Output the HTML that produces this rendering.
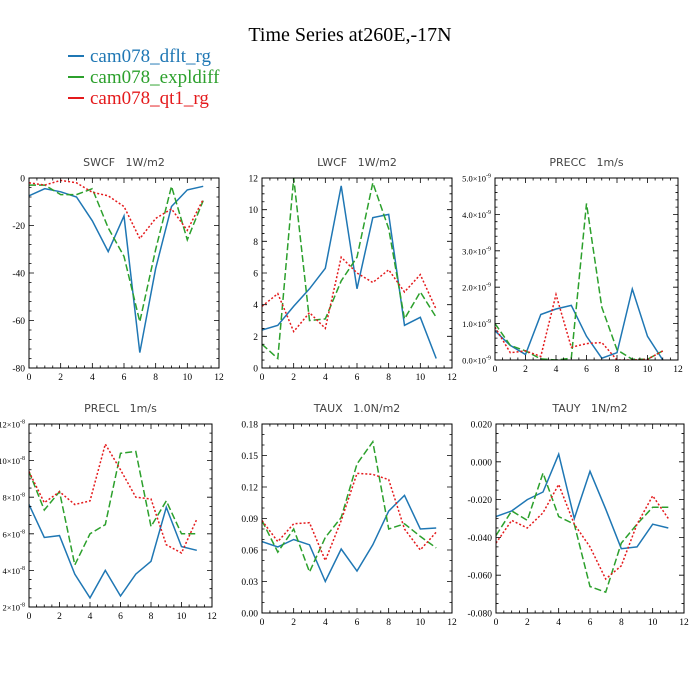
<!DOCTYPE html>
<html><head><meta charset="utf-8"><style>
html,body{margin:0;padding:0;background:#fff;width:700px;height:700px;overflow:hidden}
svg{display:block}
text{white-space:pre}
</style></head><body>
<svg id="c" width="700" height="700" xmlns="http://www.w3.org/2000/svg">
<text x="350" y="41" text-anchor="middle" font-family="Liberation Serif, serif" font-size="20">Time Series at260E,-17N</text>
<g>
<line x1="68" y1="56" x2="84" y2="56" stroke="#1f77b4" stroke-width="2"/>
<text x="90" y="62" font-family="Liberation Serif, serif" font-size="19" fill="#1f77b4">cam078_dflt_rg</text>
<line x1="68" y1="77" x2="84" y2="77" stroke="#2ca02c" stroke-width="2"/>
<text x="90" y="83" font-family="Liberation Serif, serif" font-size="19" fill="#2ca02c">cam078_expldiff</text>
<line x1="68" y1="98" x2="84" y2="98" stroke="#e41a1c" stroke-width="2"/>
<text x="90" y="104" font-family="Liberation Serif, serif" font-size="19" fill="#e41a1c">cam078_qt1_rg</text>
</g>
</svg>
<script>
const months=[0,1,2,3,4,5,6,7,8,9,10,11];
const xTicks=[0,2,4,6,8,10,12];
const swcfBlue=[-7.5,-4.5,-5.8,-8,-18,-31,-16,-73.5,-38,-12,-5,-3.5];
const swcfGreen=[-3,-3,-7,-7,-4.5,-21,-33,-60.5,-30,-3.5,-26,-9.5];
const swcfRed=[-2,-3,-1,-2,-6,-7.5,-12,-25.5,-17,-13,-22,-9];
const swcfTicks=[-80,-60,-40,-20,0];
const lwcfBlue=[2.4,2.7,3.9,5.0,6.3,11.5,5.0,9.5,9.7,2.7,3.2,0.6];
const lwcfGreen=[1.5,0.6,12,3.0,3.1,5.5,7.0,11.7,8.8,3.1,4.8,3.2];
const lwcfRed=[3.9,4.7,2.3,3.5,2.5,7.0,6.0,5.4,6.2,4.8,5.9,3.7];
const lwcfTicks=[0,2,4,6,8,10,12];
const preccBlue=[0.8,0.4,0.15,1.25,1.4,1.5,0.65,0.05,0.2,1.95,0.65,0];
const preccGreen=[1.0,0.4,0.25,0.03,0,0.05,4.3,1.45,0.28,0.02,0.02,0.25];
const preccRed=[0.9,0.2,0.25,0.1,1.8,0.35,0.45,0.48,0,0,0.02,0.25];
const preccTicks=[0,1,2,3,4,5];
const preclBlue=[7.6,5.8,5.9,3.8,2.5,4.0,2.6,3.8,4.5,7.45,5.3,5.1];
const preclGreen=[9.4,7.3,8.3,4.3,6.0,6.5,10.4,10.5,6.4,7.8,6.0,6.0];
const preclRed=[9.4,7.7,8.3,7.6,7.8,10.9,9.5,8.0,7.9,5.4,4.95,6.8];
const preclTicks=[2,4,6,8,10,12];
const tauxBlue=[0.068,0.063,0.070,0.065,0.030,0.061,0.040,0.065,0.097,0.112,0.080,0.081];
const tauxGreen=[0.088,0.058,0.080,0.039,0.072,0.091,0.142,0.163,0.080,0.085,0.073,0.062];
const tauxRed=[0.088,0.068,0.085,0.086,0.050,0.088,0.133,0.132,0.127,0.080,0.060,0.077];
const tauxTicks=[0,0.03,0.06,0.09,0.12,0.15,0.18];
const tauyBlue=[-0.029,-0.026,-0.020,-0.016,0.004,-0.030,-0.005,-0.025,-0.046,-0.045,-0.033,-0.035];
const tauyGreen=[-0.039,-0.026,-0.031,-0.006,-0.029,-0.033,-0.066,-0.069,-0.043,-0.033,-0.024,-0.024];
const tauyRed=[-0.043,-0.031,-0.035,-0.027,-0.012,-0.033,-0.045,-0.062,-0.055,-0.033,-0.018,-0.030];
const tauyTicks=[-0.08,-0.06,-0.04,-0.02,0,0.02];

const NS='http://www.w3.org/2000/svg';
const svg=document.getElementById('c');
function mk(tag,attrs,parent){const e=document.createElementNS(NS,tag);for(const k in attrs)e.setAttribute(k,attrs[k]);(parent||svg).appendChild(e);return e;}

const panels=[
 {id:'swcf',title:'SWCF   1W/m2',L:29,R:219,T:178,B:368,ymin:-80,ymax:0,ticks:swcfTicks,fmt:v=>String(v),minor:5,s:[swcfBlue,swcfGreen,swcfRed]},
 {id:'lwcf',title:'LWCF   1W/m2',L:262,R:452,T:178,B:368,ymin:0,ymax:12,ticks:lwcfTicks,fmt:v=>String(v),minor:4,s:[lwcfBlue,lwcfGreen,lwcfRed]},
 {id:'precc',title:'PRECC   1m/s',L:495,R:678,T:178,B:360,ymin:0,ymax:5,ticks:preccTicks,fmt:v=>v.toFixed(1),exp:'-9',minor:5,s:[preccBlue,preccGreen,preccRed]},
 {id:'precl',title:'PRECL   1m/s',L:29,R:212,T:424,B:607,ymin:2,ymax:12,ticks:preclTicks,fmt:v=>String(v),exp:'-8',minor:4,s:[preclBlue,preclGreen,preclRed]},
 {id:'taux',title:'TAUX   1.0N/m2',L:262,R:452,T:424,B:613,ymin:0,ymax:0.18,ticks:tauxTicks,fmt:v=>v.toFixed(2),minor:3,s:[tauxBlue,tauxGreen,tauxRed]},
 {id:'tauy',title:'TAUY   1N/m2',L:496,R:684,T:424,B:613,ymin:-0.08,ymax:0.02,ticks:tauyTicks,fmt:v=>v.toFixed(3),minor:4,s:[tauyBlue,tauyGreen,tauyRed]}
];
const colors=['#1f77b4','#2ca02c','#e41a1c'];
const dashes=['','7,3','2,2'];
const sNames=['dflt','expldiff','qt1'];

panels.forEach(p=>{
 const g=mk('g',{});
 
 
 const xs=v=>p.L+(v-0)/12*(p.R-p.L);
 const ys=v=>p.B-(v-p.ymin)/(p.ymax-p.ymin)*(p.B-p.T);
 const t=mk('text',{x:(p.L+p.R)/2,y:p.T-12,'text-anchor':'middle','font-family':'DejaVu Sans, sans-serif','font-size':'11',fill:'#444','xml:space':'preserve'},g);
 t.textContent=p.title;
 
 
 const cp=mk('clipPath',{id:'cl'+p.id},g);
 mk('rect',{x:p.L,y:p.T,width:p.R-p.L,height:p.B-p.T},cp);
 p.s.forEach((arr,i)=>{
  const d=arr.map((v,k)=>(k?'L':'M')+xs(months[k]).toFixed(1)+','+ys(v).toFixed(1)).join(' ');
  const path=mk('path',{d:d,fill:'none',stroke:colors[i],'stroke-width':'1.5','stroke-dasharray':dashes[i],'clip-path':'url(#cl'+p.id+')'},g);
  
  
 });
 const fr=mk('rect',{x:p.L,y:p.T,width:p.R-p.L,height:p.B-p.T,fill:'none',stroke:'#000','stroke-width':'1'},g);
 
 
 let tk='';
 for(let v=0;v<=12;v+=0.5){const x=xs(v);const len=(v%2===0)?5:2.5;tk+=`M${x},${p.B}v${-len}M${x},${p.T}v${len}`;}
 const n=p.ticks.length;
 for(let i=0;i<n;i++){const y=ys(p.ticks[i]);tk+=`M${p.L},${y}h5M${p.R},${y}h-5`;
  if(i<n-1){const step=(p.ticks[i+1]-p.ticks[i])/p.minor;for(let j=1;j<p.minor;j++){const yy=ys(p.ticks[i]+j*step);tk+=`M${p.L},${yy}h2.5M${p.R},${yy}h-2.5`;}}}
 const tp=mk('path',{d:tk,stroke:'#000','stroke-width':'0.8',fill:'none'},g);
 
 
 xTicks.forEach(v=>{
  const tt=mk('text',{x:xs(v),y:p.B+12,'text-anchor':'middle','font-family':'Liberation Serif, serif','font-size':'9.5'},g);
  tt.textContent=String(v);
  
  
 });
 p.ticks.forEach(v=>{
  const tt=mk('text',{x:p.L-4,y:ys(v)+3.5,'text-anchor':'end','font-family':'Liberation Serif, serif','font-size':'9.5'},g);
  
  
  if(p.exp){
   tt.setAttribute('font-size','8.5');
   tt.appendChild(document.createTextNode(p.fmt(v)+'\u00d710'));
   const sp=document.createElementNS(NS,'tspan');sp.setAttribute('dy','-4');sp.setAttribute('font-size','6');sp.textContent=p.exp;tt.appendChild(sp);
  } else tt.textContent=p.fmt(v);
 });
});
</script>
</body></html>
